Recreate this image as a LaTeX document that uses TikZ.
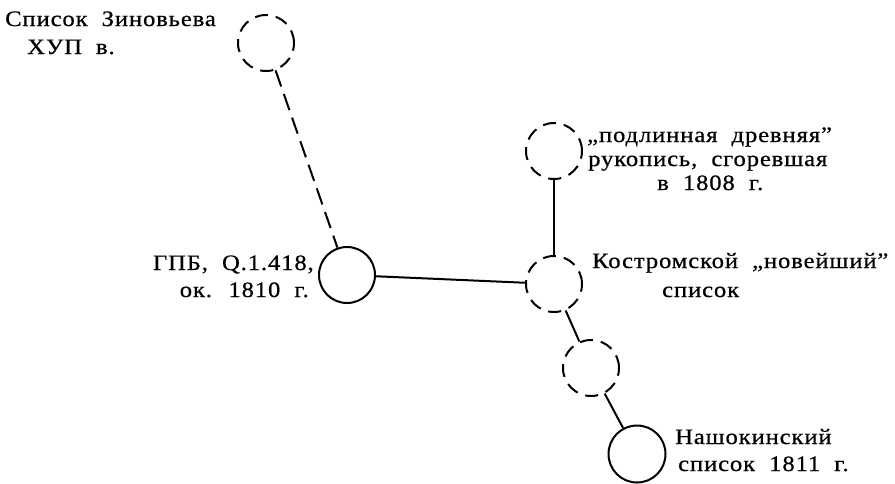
\documentclass[tikz,border=0pt]{standalone}
\usepackage{fontspec}
\newfontfamily\typefont{Liberation Serif}[FakeStretch=1.12,LetterSpace=4,WordSpace=2.0,FakeBold=0.6]
\begin{document}
\begin{tikzpicture}[x=1pt,y=-1pt,
  ms/.style={circle,draw,line width=2pt,minimum size=56pt,inner sep=0pt},
  msd/.style={ms,dash pattern=on 13pt off 8pt},
  edge/.style={line width=2pt},
  edged/.style={edge,dash pattern=on 17pt off 8pt},
  lbl/.style={inner sep=0pt,font=\typefont\fontsize{22}{24}\selectfont}]
\useasboundingbox (0,0) rectangle (895,483);
\node[msd] (z) at (266,43) {};
\node[ms]  (g) at (347,275) {};
\node[msd] (p) at (554,151) {};
\node[msd] (k) at (554,284) {};
\node[msd] (u) at (591,368) {};
\node[ms,minimum size=57pt] (n) at (637,454) {};
\draw[edged] (z) -- (g);
\draw[edge] (g) -- (k);
\draw[edge] (p) -- (k);
\draw[edge] (k) -- (u);
\draw[edge] (u) -- (n);
\node[lbl,anchor=base west] (z1) at (5,26) {Список Зиновьева};
\node[lbl,anchor=base west] (z2) at (27,54) {ХУП в.};
\node[lbl,anchor=base west] (p1) at (587,142) {„подлинная древняя”};
\node[lbl,anchor=base west] (p2) at (588,166) {рукопись, сгоревшая};
\node[lbl,anchor=base west] (p3) at (657,190) {в 1808 г.};
\node[lbl,anchor=base east] (g1) at (314,270) {ГПБ, Q.1.418,};
\node[lbl,anchor=base east] (g2) at (309,297) {ок. 1810 г.};
\node[lbl,anchor=base west] (k1) at (592,268) {Костромской „новейший”};
\node[lbl,anchor=base west] (k2) at (662,297) {список};
\node[lbl,anchor=base west] (n1) at (675,444) {Нашокинский};
\node[lbl,anchor=base west] (n2) at (678,471) {список 1811 г.};
\end{tikzpicture}
\end{document}
